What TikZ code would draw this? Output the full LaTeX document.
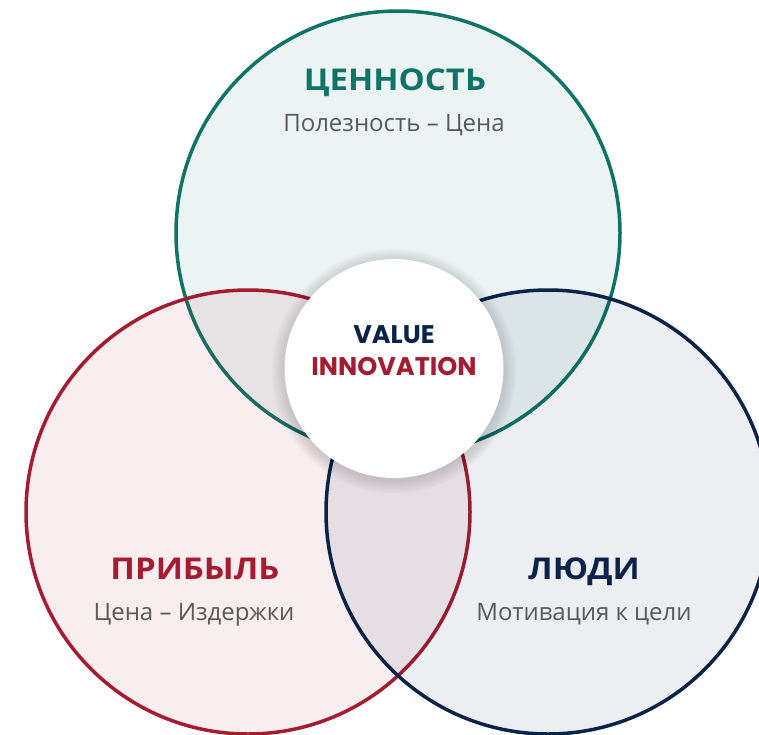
\documentclass[tikz,border=0pt]{standalone}
\usepackage{fontspec}
\setmainfont{Open Sans}
\newfontfamily\headfont{Open Sans}[UprightFont=* Bold]
\newfontfamily\latinhead{Poppins}[UprightFont=* Bold]
\definecolor{tealc}{HTML}{0F7367}
\definecolor{redc}{HTML}{A51C30}
\definecolor{navyc}{HTML}{0B2348}
\definecolor{subgray}{HTML}{595959}
\newcommand{\widehead}[1]{\scalebox{1.1}[1]{#1}}
\begin{document}
\begin{tikzpicture}[x=1pt,y=-1pt,
  ring/.style={circle, inner sep=0pt, minimum size=444pt, line width=3.5pt, fill opacity=0.08},
  headtxt/.style={font=\headfont\fontsize{30}{32}\selectfont, anchor=base},
  subtxt/.style={font=\fontsize{24}{26}\selectfont, text=subgray, anchor=base},
  hubtxt/.style={font=\latinhead\fontsize{25.5}{27}\selectfont, anchor=base}]
\useasboundingbox (0,0) rectangle (759,734);
\begin{scope}
\clip (0,0) rectangle (759,734);
% the three overlapping circles
\node (value)  [ring, draw=tealc, fill=tealc] at (398,233) {};
\node (profit) [ring, draw=redc,  fill=redc]  at (248,512) {};
\node (people) [ring, draw=navyc, fill=navyc] at (548,512) {};
% soft shadow under the central disc
\foreach \k in {1,...,13}
  \fill[black, opacity=0.010] (394,371) circle ({109.5+\k});
\node (hub) [circle, fill=white, inner sep=0pt, minimum size=219pt] at (394,368.5) {};
\end{scope}
% labels
\node (vh) [headtxt, text=tealc] at (395,90) {\widehead{ЦЕННОСТЬ}};
\node (vs) [subtxt] at (394,131) {Полезность – Цена};
\node (ph) [headtxt, text=redc] at (195,579) {\widehead{ПРИБЫЛЬ}};
\node (ps) [subtxt] at (194,620) {Цена – Издержки};
\node (qh) [headtxt, text=navyc] at (584,579) {\widehead{ЛЮДИ}};
\node (qs) [subtxt] at (584,620) {Мотивация к цели};
\node (hv) [hubtxt, text=navyc] at (394,343) {VALUE};
\node (hi) [hubtxt, text=redc] at (394,375) {INNOVATION};
\end{tikzpicture}
\end{document}
